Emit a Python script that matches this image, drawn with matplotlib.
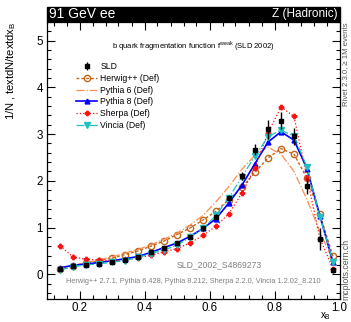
import matplotlib
matplotlib.use('Agg')
import matplotlib.pyplot as plt
from matplotlib.patches import Rectangle
from matplotlib.ticker import MultipleLocator

plt.rcParams['font.family'] = ['Liberation Sans', 'DejaVu Sans']

# bin centres in x_B
x_b = [0.14, 0.18, 0.22, 0.26, 0.30, 0.34, 0.38, 0.42, 0.46, 0.50, 0.54,
       0.58, 0.62, 0.66, 0.70, 0.74, 0.78, 0.82, 0.86, 0.90, 0.94, 0.98]

sld = [0.12, 0.18, 0.19, 0.21, 0.26, 0.30, 0.36, 0.48, 0.56, 0.67, 0.80,
       0.98, 1.23, 1.63, 2.10, 2.67, 3.10, 3.29, 2.95, 1.89, 0.75, 0.09]
sld_err = [0.03, 0.03, 0.03, 0.03, 0.03, 0.03, 0.03, 0.04, 0.04, 0.04, 0.04,
           0.05, 0.05, 0.06, 0.09, 0.12, 0.20, 0.19, 0.18, 0.18, 0.23, 0.07]

herwig = [0.12, 0.18, 0.24, 0.29, 0.35, 0.42, 0.50, 0.60, 0.71, 0.85, 0.99,
          1.16, 1.35, 1.60, 1.86, 2.18, 2.49, 2.69, 2.57, 2.05, 1.28, 0.38]
pythia6 = [0.13, 0.19, 0.25, 0.31, 0.37, 0.45, 0.53, 0.63, 0.75, 0.88, 1.05,
           1.26, 1.55, 1.88, 2.25, 2.55, 2.72, 2.57, 2.20, 1.60, 0.90, 0.30]
pythia8 = [0.14, 0.19, 0.22, 0.25, 0.29, 0.33, 0.38, 0.47, 0.57, 0.67, 0.81,
           0.98, 1.19, 1.53, 1.91, 2.37, 2.83, 3.05, 2.87, 2.26, 1.24, 0.26]
sherpa = [0.61, 0.37, 0.32, 0.31, 0.28, 0.31, 0.35, 0.41, 0.48, 0.55, 0.67,
          0.83, 1.03, 1.30, 1.74, 2.28, 3.03, 3.58, 3.38, 2.07, 0.76, 0.12]
vincia = [0.09, 0.16, 0.20, 0.22, 0.26, 0.29, 0.36, 0.44, 0.52, 0.62, 0.79,
          0.98, 1.26, 1.64, 2.09, 2.53, 2.94, 3.09, 2.95, 2.30, 1.23, 0.27]

W, H = 351, 322
fig = plt.figure(figsize=(W / 100, H / 100), dpi=100)
ax = fig.add_axes([47 / W, 1 - 299 / H, 292.5 / W, 277 / H])

# MC curves
ax.plot(x_b, herwig, color='#c0651a', ls=(0, (2, 1.5)), lw=1.0, marker='o',
        ms=4.5, mfc='none', mec='#c0651a', mew=1.0, label='Herwig++ (Def)')
ax.plot(x_b, pythia6, color='#ff8c50', ls='-.', lw=0.9, label='Pythia 6 (Def)')
ax.plot(x_b, pythia8, color='#0000ff', ls='-', lw=1.2, marker='^', ms=3.5,
        label='Pythia 8 (Def)')
ax.plot(x_b, sherpa, color='#ff1010', ls=':', lw=0.9, marker='P', ms=3.2,
        label='Sherpa (Def)')
ax.plot(x_b, vincia, color='#20c0c0', ls='-.', lw=0.9, marker='v', ms=4,
        label='Vincia (Def)')
# data
ax.errorbar(x_b, sld, yerr=sld_err, color='black', fmt='s', ms=3.5, lw=1.0,
            capsize=0, zorder=5, label='SLD')

ax.set_xlim(0.1, 1.0)
ax.set_ylim(-0.53, 5.4)
ax.xaxis.set_major_locator(MultipleLocator(0.2))
ax.xaxis.set_minor_locator(MultipleLocator(0.04))
ax.yaxis.set_major_locator(MultipleLocator(1))
ax.yaxis.set_minor_locator(MultipleLocator(0.2))
ax.tick_params(which='both', direction='in', top=True, right=True,
               labelsize=8.3, width=0.8)
ax.tick_params(which='major', length=5.5, pad=3)
ax.tick_params(axis='x', which='major', pad=2)
ax.tick_params(which='minor', length=3)
for s in ax.spines.values():
    s.set_linewidth(0.9)

handles, labels = ax.get_legend_handles_labels()
order = [5, 0, 1, 2, 3, 4]
ax.legend([handles[i] for i in order], [labels[i] for i in order],
          loc='upper left', bbox_to_anchor=(0.1, 0.855), frameon=False,
          fontsize=6.2, handlelength=2.4, handletextpad=0.4,
          labelspacing=0.32, borderpad=0, borderaxespad=0)

ax.text(0.5, 0.915, 'b quark fragmentation function f$^{\\mathregular{weak}}$ (SLD 2002)',
        transform=ax.transAxes, ha='center', va='center', fontsize=5.5)
ax.text(0.59, 0.125, 'SLD_2002_S4869273', transform=ax.transAxes,
        ha='center', va='center', fontsize=6.2, color='#808080')
ax.text(0.5, 0.063,
        'Herwig++ 2.7.1, Pythia 6.428, Pythia 8.212, Sherpa 2.2.0, Vincia 1.2.02_8.210',
        transform=ax.transAxes, ha='center', va='center', fontsize=5.3,
        color='#808080')

# header band
fig.patches.append(Rectangle((47 / W, 1 - 21 / H), 293 / W, 14 / H,
                             transform=fig.transFigure, color='black'))
fig.text(49 / W, 1 - 14 / H, '91 GeV ee', color='white', fontsize=10,
         ha='left', va='center')
fig.text(338 / W, 1 - 14 / H, 'Z (Hadronic)', color='white', fontsize=8.5,
         ha='right', va='center')

fig.text(11 / W, 1 - 22 / H, '1/N , textdN/textdx$_\\mathregular{B}$',
         rotation=90, ha='center', va='top', fontsize=8)
fig.text(331.5 / W, 1 - 321.5 / H, 'x$_\\mathregular{B}$', ha='right',
         va='bottom', fontsize=7)
fig.text(346 / W, 1 - 22 / H, 'Rivet 2.3.0, \u2265 1M events', rotation=90,
         ha='center', va='top', fontsize=5.6, color='#555555')
fig.text(346 / W, 1 - 300 / H, 'mcplots.cern.ch', rotation=90,
         ha='center', va='bottom', fontsize=6.2, color='#555555')

fig.savefig('out.png', dpi=100)
